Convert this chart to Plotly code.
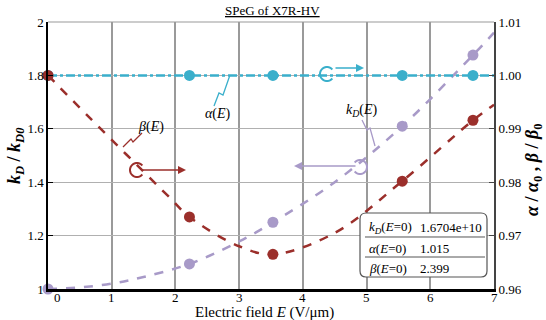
import numpy as np
import plotly.graph_objects as go

# ---- data -------------------------------------------------------------
# electric field samples (V/um) used for the curves
E_kd = [0.0, 0.5, 1.0, 1.5, 2.22, 3.0, 3.53, 4.5, 5.56, 6.67, 7.0]
kd_ratio = [1.000, 1.006, 1.020, 1.045, 1.094, 1.178, 1.250, 1.400, 1.610, 1.876, 1.960]

E_beta = [0.0, 0.66, 1.92, 2.22, 3.0, 3.53, 4.5, 5.56, 6.67, 7.0]
beta_ratio = [1.000, 0.9920, 0.9770, 0.9735, 0.9680, 0.9665, 0.9705, 0.9802, 0.9916, 0.9945]

E_alpha = [0.0, 2.22, 3.53, 5.56, 6.67, 7.0]
alpha_ratio = [1.000, 1.000, 1.000, 1.000, 1.000, 1.000]

# field values carrying a marker
E_marks = [0.0, 2.22, 3.53, 5.56, 6.67]

x_ticks = [0, 1, 2, 3, 4, 5, 6, 7]
y_ticks = [1.0, 1.2, 1.4, 1.6, 1.8, 2.0]
y2_ticks = [0.96, 0.97, 0.98, 0.99, 1.00, 1.01]

fit_rows = [("<i>k<sub>D</sub></i>(<i>E</i>=0)", "1.6704e+10"),
            ("<i>α</i>(<i>E</i>=0)", "1.015"),
            ("<i>β</i>(<i>E</i>=0)", "2.399")]

PURPLE = "#a89ac8"
RED = "#9b2f2b"
CYAN = "#3aafcb"
FONT = "Liberation Serif"

# ---- geometry helpers (pixel -> paper) ---------------------------------
W, H = 546, 320
L, R, T, B = 48, 494, 22, 289


def px(x):
    return (x - L) / (R - L)


def py(y):
    return (B - y) / (B - T)


def pick(xs, ys):
    mx = [x for x in xs if x in E_marks]
    my = [ys[xs.index(x)] for x in mx]
    return mx, my


fig = go.Figure()

# alpha (right axis)
fig.add_trace(go.Scatter(x=E_alpha, y=alpha_ratio, yaxis="y2", mode="lines",
                         line=dict(color=CYAN, width=2.5, dash="dashdot"),
                         cliponaxis=False, showlegend=False))
mx, my = pick(E_alpha, alpha_ratio)
fig.add_trace(go.Scatter(x=mx, y=my, yaxis="y2", mode="markers",
                         marker=dict(color=CYAN, size=11), cliponaxis=False,
                         showlegend=False))

# kD (left axis)
fig.add_trace(go.Scatter(x=E_kd, y=kd_ratio, mode="lines", line_shape="spline",
                         line=dict(color=PURPLE, width=2.5, dash="dash"),
                         cliponaxis=False, showlegend=False))
mx, my = pick(E_kd, kd_ratio)
fig.add_trace(go.Scatter(x=mx, y=my, mode="markers",
                         marker=dict(color=PURPLE, size=11), cliponaxis=False,
                         showlegend=False))

# beta (right axis)
fig.add_trace(go.Scatter(x=E_beta, y=beta_ratio, yaxis="y2", mode="lines",
                         line_shape="spline",
                         line=dict(color=RED, width=2.5, dash="dash"),
                         cliponaxis=False, showlegend=False))
mx, my = pick(E_beta, beta_ratio)
fig.add_trace(go.Scatter(x=mx, y=my, yaxis="y2", mode="markers",
                         marker=dict(color=RED, size=11), cliponaxis=False,
                         showlegend=False))

shapes = []
annotations = []


def polyline(points, color, width=1.5):
    d = "M " + " L ".join(f"{px(x):.5f},{py(y):.5f}" for x, y in points)
    shapes.append(dict(type="path", xref="paper", yref="paper", path=d,
                       line=dict(color=color, width=width)))


def arc(cx, cy, r, a0, a1, color):
    ang = np.radians(np.linspace(a0, a1, 40))
    pts = [(cx + r * np.cos(a), cy - r * np.sin(a)) for a in ang]
    polyline(pts, color, 2)


def arrow(x0, y0, x1, y1, color):
    annotations.append(dict(x=px(x1), y=py(y1), xref="paper", yref="paper",
                            ax=x0 - x1, ay=y0 - y1, axref="pixel", ayref="pixel",
                            text="", showarrow=True, arrowhead=2, arrowsize=1,
                            arrowwidth=1.6, arrowcolor=color))


def label(x, y, text, size=14, anchor="center", color="black", angle=0):
    annotations.append(dict(x=px(x), y=py(y), xref="paper", yref="paper",
                            text=text, showarrow=False, xanchor=anchor,
                            yanchor="middle", textangle=angle,
                            font=dict(family=FONT, size=size, color=color)))


# top frame line
polyline([(L, T), (R, T)], "#9a9a9a", 1.2)

# curve name labels with zig-zag leaders
label(151, 127, "<i>β</i>(<i>E</i>)")
polyline([(123, 147), (131, 139), (133, 142), (142, 133)], RED, 1.3)
label(218, 114, "<i>α</i>(<i>E</i>)")
polyline([(214, 106), (219, 93), (223, 95), (230, 75)], CYAN, 1.3)
label(362, 110, "<i>k<sub>D</sub></i>(<i>E</i>)")
polyline([(362, 120), (367, 130), (370, 128), (375, 146)], PURPLE, 1.3)

# axis-side indicators
arc(137, 170, 7, 40, 320, RED)
arrow(140, 170, 186, 170, RED)
arc(327, 74, 7, 40, 320, CYAN)
arrow(334, 68, 364, 68, CYAN)
arc(360, 167, 7, 220, 500, PURPLE)
arrow(357, 166, 294, 166, PURPLE)

# fitted constants box
bx0, by0, bx1, by1, rr = 360, 213, 487, 277, 6
box = (f"M {px(bx0+rr)},{py(by0)} L {px(bx1-rr)},{py(by0)} "
       f"Q {px(bx1)},{py(by0)} {px(bx1)},{py(by0+rr)} "
       f"L {px(bx1)},{py(by1-rr)} Q {px(bx1)},{py(by1)} {px(bx1-rr)},{py(by1)} "
       f"L {px(bx0+rr)},{py(by1)} Q {px(bx0)},{py(by1)} {px(bx0)},{py(by1-rr)} "
       f"L {px(bx0)},{py(by0+rr)} Q {px(bx0)},{py(by0)} {px(bx0+rr)},{py(by0)} Z")
shapes.append(dict(type="path", xref="paper", yref="paper", path=box,
                   fillcolor="white", line=dict(color="#555555", width=1.2)))
row_y = [227, 248, 268]
for (name, val), yy in zip(fit_rows, row_y):
    label(367, yy, name, size=13, anchor="left")
    label(418, yy, val, size=13, anchor="left")
for yy in [237, 257]:
    polyline([(365, yy), (485, yy)], "#555555", 1)

# field-axis tick labels placed tight under the axis (zero nudged right)
for v in x_ticks:
    annotations.append(dict(x=v, y=0, xref="x", yref="paper", text=str(v),
                            showarrow=False, xanchor="center", yanchor="top",
                            xshift=9 if v == 0 else 0, yshift=1,
                            font=dict(family=FONT, size=13, color="black")))

# titles
label(272, 11, "<u>SPeG of X7R-HV</u>", size=13)
label(264, 312, "Electric field <i>E</i> (V/μm)", size=15)
label(15, 156, "<b><i>k<sub>D</sub></i> / <i>k<sub>D0</sub></i></b>",
      size=18, angle=-90)
label(533, 170,
      "<b><i>α</i> / <i>α</i><sub>0</sub> , <i>β</i> / <i>β</i><sub>0</sub></b>",
      size=18, angle=-90)

fig.update_layout(
    width=W, height=H,
    margin=dict(l=L, r=W - R, t=T, b=H - B, pad=0),
    paper_bgcolor="white", plot_bgcolor="white",
    font=dict(family=FONT, size=13, color="black"),
    showlegend=False,
    xaxis=dict(range=[0, 7], tickvals=x_ticks[1:],
               showgrid=True, gridcolor="#9a9a9a", gridwidth=1.6,
               showline=True, linecolor="black", linewidth=3,
               ticks="", zeroline=False, showticklabels=False),
    yaxis=dict(range=[1, 2], tickvals=y_ticks,
               ticktext=["1", "1.2", "1.4", "1.6", "1.8", "2"],
               showgrid=True, gridcolor="#b0b0b0", gridwidth=1,
               showline=True, linecolor="black", linewidth=1.5,
               ticks="inside", ticklen=5, tickcolor="black",
               zeroline=False, tickfont=dict(size=13)),
    yaxis2=dict(range=[0.96, 1.01], tickvals=y2_ticks,
                ticktext=[f"{v:.2f}" for v in y2_ticks],
                overlaying="y", side="right", showgrid=False,
                showline=True, linecolor="#444444", linewidth=2,
                ticks="inside", ticklen=5, tickcolor="#444444",
                zeroline=False, tickfont=dict(size=13)),
    shapes=shapes,
    annotations=annotations,
)

fig.write_html("out.html")
